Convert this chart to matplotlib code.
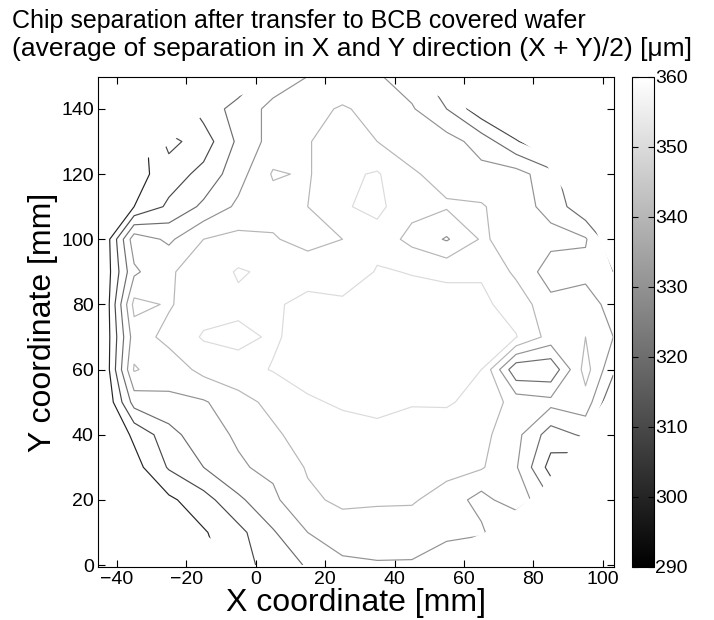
import numpy as np
import matplotlib
matplotlib.use("Agg")
import matplotlib.pyplot as plt
from matplotlib.patches import Polygon
from matplotlib.colors import Normalize
import matplotlib.cm as cm

# measurement grid (mm) and chip separation (um), rows from top (y=150) to bottom (y=0)
x_mm = [-43, -35, -25, -15, -5, 5, 15, 25, 35, 45, 55, 65, 75, 85, 95, 103]
y_mm = [150, 140, 130, 120, 110, 100, 90, 80, 70, 60, 50, 40, 30, 20, 10, 0]
sep_um = [
    [290, 290, 290, 295, 312, 324, 330, 333, 331, 325, 312, 300, 295, 290, 290, 290],
    [290, 290, 300, 314, 324, 333, 337, 341, 337, 331, 320, 303, 295, 290, 290, 290],
    [290, 292, 313, 305, 322, 334, 339.5, 344, 340, 336, 334, 326, 311, 300, 292, 290],
    [290, 296, 305, 313, 326, 341, 339, 348, 351, 341, 337, 333, 334, 324, 305, 292],
    [290, 300, 312, 322, 332, 336, 340, 349, 352.5, 343, 341, 341, 334, 327, 312, 295],
    [295, 336, 328, 340, 343, 341, 336, 340, 346, 337, 329, 341, 337, 333, 331, 312],
    [295, 328, 339, 344, 351, 348, 347, 341, 351, 349.5, 348, 349, 338, 325, 327, 320],
    [295, 343, 339, 346, 348, 349, 352, 353, 354, 354, 354, 352, 346, 333, 335, 326],
    [295, 335, 343, 351, 352, 349, 353, 354, 355, 355, 354, 352, 350.5, 336, 340, 330],
    [295, 341, 334, 343, 347, 350.5, 353, 354, 355, 354, 352, 350, 312, 312, 344, 322],
    [292, 324, 328, 329, 336, 343, 349, 351, 352, 350.5, 351, 347, 336, 333, 336, 310],
    [290, 302, 316, 327, 331, 338, 345, 347, 348, 347, 345, 343, 333, 315, 322, 300],
    [290, 296, 311, 320, 329, 332, 341, 344, 345, 345, 343, 341, 331, 306, 300, 295],
    [290, 290, 298, 306, 318, 328, 338, 342, 341, 341, 336, 326, 337, 320, 300, 295],
    [290, 290, 292, 299, 307, 319, 330, 335, 336, 335, 333, 332, 315, 300, 295, 295],
    [290, 290, 290, 295, 306, 314, 321, 328, 329, 329, 322, 312, 300, 295, 295, 295],
]
levels = [300, 310, 320, 330, 340, 350]

# outline of the measured area on the wafer (mm)
hull_x = [-3, 45, 68, 82, 97, 103, 103, 97, 92, 81, 58, 36, 10, -12, -25, -31, -36, -42, -43, -43, -41, -40, -14]
hull_y = [0, 0, 11, 23, 45, 55, 90, 105, 110, 127, 142, 150, 150, 141, 129, 125, 118, 106, 90, 60, 45, 37, 9]

plt.rcParams['font.family'] = ['Liberation Sans', 'DejaVu Sans']

fig = plt.figure(figsize=(7.14, 6.2), dpi=100)
ax = fig.add_axes([98 / 714, 53 / 620, 516 / 714, 490 / 620])

Z = np.array(sep_um, dtype=float)[::-1]
Y = np.array(y_mm)[::-1]
norm = Normalize(vmin=290, vmax=360)
cs = ax.contour(x_mm, Y, Z, levels=levels, cmap="gray", norm=norm, linewidths=0.85)
clip = Polygon(np.column_stack([hull_x, hull_y]), closed=True, transform=ax.transData,
               facecolor="none", edgecolor="none")
cs.set_clip_path(clip)

ax.set_xlim(-45.4, 103.2)
ax.set_ylim(-0.6, 149.8)
ax.set_xticks(range(-40, 101, 20))
ax.set_yticks(range(0, 141, 20))
ax.tick_params(direction="in", top=True, right=True, labelsize=14, length=5, pad=3)
ax.set_xlabel("X coordinate [mm]", fontsize=23, labelpad=0)
ax.set_ylabel("Y coordinate [mm]", fontsize=23, labelpad=2)

cax = fig.add_axes([632 / 714, 53 / 620, 22 / 714, 490 / 620])
sm = cm.ScalarMappable(norm=norm, cmap="gray")
cb = fig.colorbar(sm, cax=cax, ticks=range(290, 361, 10))
cax.tick_params(direction="in", left=True, right=True, labelsize=14, length=4, pad=1)

fig.text(12 / 714, 1 - 28 / 620, "Chip separation after transfer to BCB covered wafer",
         fontsize=18, ha="left", va="baseline")
fig.text(12 / 714, 1 - 56 / 620, "(average of separation in X and Y direction (X + Y)/2) [μm]",
         fontsize=19, ha="left", va="baseline")

fig.savefig("out.png", dpi=100)
